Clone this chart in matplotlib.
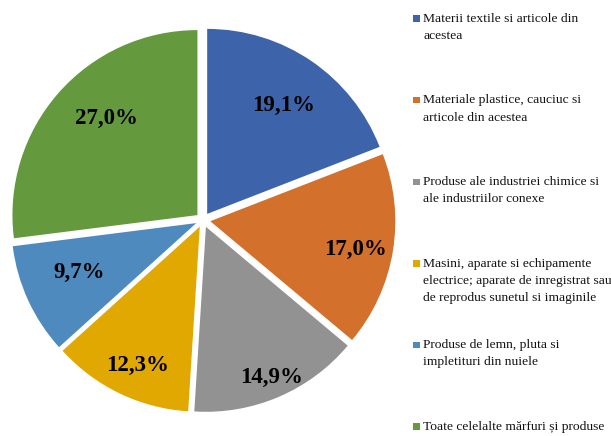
import numpy as np
import matplotlib.pyplot as plt
from matplotlib.patches import Rectangle

# valori (%) si categorii
procente = [19.1, 17.0, 14.9, 12.3, 9.7, 27.0]
categorii = [
    'Materii textile si articole din\nacestea',
    'Materiale plastice, cauciuc si\narticole din acestea',
    'Produse ale industriei chimice si\nale industriilor conexe',
    'Masini, aparate si echipamente\nelectrice; aparate de inregistrat sau\nde reprodus sunetul si imaginile',
    'Produse de lemn, pluta si\nimpletituri din nuiele',
    'Toate celelalte mărfuri și produse',
]
culori = ['#3D64AA', '#D2702C', '#929292', '#E0A800', '#4E8ABE', '#64993E']
# pozitia etichetelor: distanta fata de centru si abatere de unghi (grade)
dist_etichete = [0.72, 0.80, 0.89, 0.82, 0.69, 0.72]
abatere_unghi = [-0.8, -1.5, 0.4, 1.6, -1.8, -5.3]

plt.rcParams['font.family'] = ['Liberation Serif', 'DejaVu Serif']

W, H = 611, 436
fig = plt.figure(figsize=(W / 100, H / 100), dpi=100)
# axa pentru pie: centru ~(203,216) px de jos, raza ~185 px
latura = 407
ax = fig.add_axes([(203 - latura / 2) / W, (216 - latura / 2) / H, latura / W, latura / H])

felii, _ = ax.pie(procente, colors=culori, startangle=90, counterclock=False,
                  explode=[0.04] * len(procente), radius=1.0,
                  wedgeprops=dict(linewidth=0))
ax.set_xlim(-1.1, 1.1)
ax.set_ylim(-1.1, 1.1)
ax.set_aspect('equal')
ax.axis('off')

for felie, val, d, da in zip(felii, procente, dist_etichete, abatere_unghi):
    unghi = np.deg2rad((felie.theta1 + felie.theta2) / 2 + da)
    cx, cy = felie.center
    ax.text(cx + d * np.cos(unghi), cy + d * np.sin(unghi),
            f'{val:.1f}%'.replace('.', ','), ha='center', va='center',
            fontsize=16.5, fontweight='bold', color='black')

# legenda desenata manual, in dreapta
x_marker = 413
x_text = 423
for i, (cat, col) in enumerate(zip(categorii, culori)):
    y_sus = 13 + i * 81.5
    fig.patches.append(Rectangle((x_marker / W, 1 - (y_sus + 9) / H), 6.5 / W, 6.5 / H,
                                 transform=fig.transFigure, facecolor=col,
                                 edgecolor='none'))
    fig.text(x_text / W, 1 - y_sus / H, cat, ha='left', va='top',
             fontsize=9.7, linespacing=1.6, color='#111111')

fig.savefig('out.png', dpi=100)
